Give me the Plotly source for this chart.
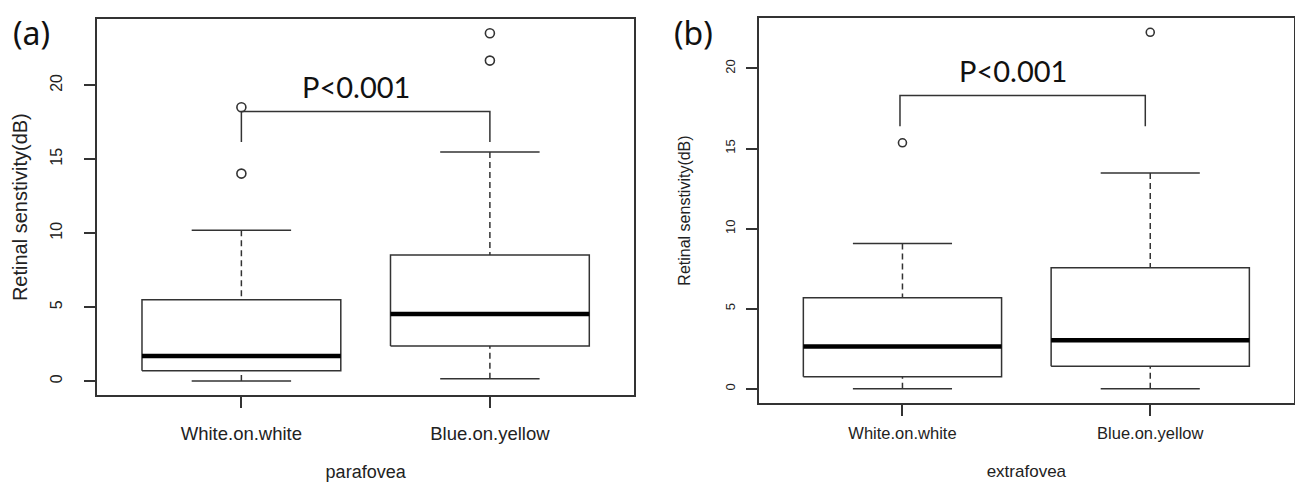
import plotly.graph_objects as go

# ---------------- data ----------------
categories = ["White.on.white", "Blue.on.yellow"]
positions = [1, 2]

# panel (a) parafovea : box-plot statistics (dB)
a_lower = [0.0, 0.16]
a_q1 = [0.70, 2.37]
a_median = [1.69, 4.53]
a_q3 = [5.50, 8.52]
a_upper = [10.2, 15.49]
a_outliers = [[14.03, 18.52], [21.67, 23.52]]

# panel (b) extrafovea : box-plot statistics (dB)
b_lower = [0.0, 0.0]
b_q1 = [0.75, 1.41]
b_median = [2.64, 3.03]
b_q3 = [5.68, 7.55]
b_upper = [9.07, 13.48]
b_outliers = [[15.36], [22.26]]

y_ticks = [0, 5, 10, 15, 20]
p_text = "P<0.001"
a_bracket_x = [1, 1, 2, 2]
a_bracket_y = [16.17, 18.22, 18.22, 16.17]
b_bracket_x = [0.99, 0.99, 1.98, 1.98]
b_bracket_y = [16.39, 18.31, 18.31, 16.39]
a_ptext_pos = (1.46, 19.9)
b_ptext_pos = (1.445, 19.87)
x_titles = ["parafovea", "extrafovea"]
y_title = "Retinal senstivity(dB)"
panel_labels = ["(a)", "(b)"]

# ---------------- style ----------------
INK = "#333333"
BOX_HALF = 0.4
CAP_HALF = 0.2
LINE_W = 1.5

fig = go.Figure()


def add_panel(xa, ya, lower, q1, med, q3, upper, outliers, bx, by, ptext_pos, marker_size):
    # whiskers (dashed), from whisker end to box edge
    wx, wy = [], []
    for c, lo, a, b, up in zip(positions, lower, q1, q3, upper):
        wx += [c, c, None, c, c, None]
        wy += [up, b, None, lo, a, None]
    fig.add_trace(go.Scatter(x=wx, y=wy, xaxis=xa, yaxis=ya, mode="lines",
                             line=dict(color=INK, width=LINE_W, dash="6px,4px"),
                             hoverinfo="skip", showlegend=False))
    # caps
    cx, cy = [], []
    for c, lo, up in zip(positions, lower, upper):
        cx += [c - CAP_HALF, c + CAP_HALF, None, c - CAP_HALF, c + CAP_HALF, None]
        cy += [up, up, None, lo, lo, None]
    fig.add_trace(go.Scatter(x=cx, y=cy, xaxis=xa, yaxis=ya, mode="lines",
                             line=dict(color=INK, width=LINE_W),
                             hoverinfo="skip", showlegend=False))
    # boxes
    rx, ry = [], []
    for c, a, b in zip(positions, q1, q3):
        rx += [c - BOX_HALF, c + BOX_HALF, c + BOX_HALF, c - BOX_HALF, c - BOX_HALF, None]
        ry += [a, a, b, b, a, None]
    fig.add_trace(go.Scatter(x=rx, y=ry, xaxis=xa, yaxis=ya, mode="lines",
                             line=dict(color=INK, width=LINE_W),
                             hoverinfo="skip", showlegend=False))
    # medians
    mx, my = [], []
    for c, m in zip(positions, med):
        mx += [c - BOX_HALF, c + BOX_HALF, None]
        my += [m, m, None]
    fig.add_trace(go.Scatter(x=mx, y=my, xaxis=xa, yaxis=ya, mode="lines",
                             line=dict(color="black", width=4.5),
                             hoverinfo="skip", showlegend=False))
    # outliers
    ox, oy = [], []
    for c, pts in zip(positions, outliers):
        ox += [c] * len(pts)
        oy += pts
    fig.add_trace(go.Scatter(x=ox, y=oy, xaxis=xa, yaxis=ya, mode="markers",
                             marker=dict(symbol="circle-open", size=marker_size,
                                         color=INK, line=dict(width=1.6, color=INK)),
                             hoverinfo="skip", showlegend=False))
    # significance bracket
    fig.add_trace(go.Scatter(x=bx, y=by, xaxis=xa, yaxis=ya, mode="lines",
                             line=dict(color=INK, width=LINE_W),
                             hoverinfo="skip", showlegend=False))
    fig.add_annotation(x=ptext_pos[0], y=ptext_pos[1], xref=xa, yref=ya,
                       text=p_text, showarrow=False,
                       font=dict(family="Lato, Open Sans, sans-serif", size=29, color="#111"))


add_panel("x", "y", a_lower, a_q1, a_median, a_q3, a_upper, a_outliers,
          a_bracket_x, a_bracket_y, a_ptext_pos, 9)
add_panel("x2", "y2", b_lower, b_q1, b_median, b_q3, b_upper, b_outliers,
          b_bracket_x, b_bracket_y, b_ptext_pos, 8)


def yrange(lower, outliers, upper):
    lo = min(lower)
    hi = max([max(p) for p in outliers] + upper)
    pad = 0.04 * (hi - lo)
    return [lo - pad, hi + pad]


AX_FONT = "Liberation Sans, Arial, sans-serif"
common_axis = dict(showline=True, mirror=True, linecolor=INK, linewidth=1.6,
                   ticks="outside", ticklen=11, tickwidth=1.5, tickcolor=INK,
                   showgrid=False, zeroline=False)

fig.update_layout(
    width=1295, height=483,
    margin=dict(l=0, r=0, t=0, b=0),
    paper_bgcolor="white", plot_bgcolor="white",
    showlegend=False,
    xaxis=dict(domain=[0.0751, 0.4896], range=[0.42, 2.58], anchor="y",
               tickmode="array", tickvals=positions, ticktext=categories,
               tickfont=dict(family=AX_FONT, size=18.5, color="#222"),
               ticklabelstandoff=10,
               title=dict(text=x_titles[0], standoff=22,
                          font=dict(family=AX_FONT, size=18, color="#222")),
               **common_axis),
    yaxis=dict(domain=[0.1822, 0.96], range=yrange(a_lower, a_outliers, a_upper), anchor="x",
               tickmode="array", tickvals=y_ticks, tickangle=-90,
               tickfont=dict(family=AX_FONT, size=16, color="#222"),
               ticklabelstandoff=16,
               title=dict(text=y_title, standoff=15,
                          font=dict(family=AX_FONT, size=20, color="#222")),
               **common_axis),
    xaxis2=dict(domain=[0.5859, 0.9992], range=[0.42, 2.58], anchor="y2",
                tickmode="array", tickvals=positions, ticktext=categories,
                tickfont=dict(family=AX_FONT, size=16.5, color="#222"),
                ticklabelstandoff=3,
                title=dict(text=x_titles[1], standoff=24,
                           font=dict(family=AX_FONT, size=17, color="#222")),
                **common_axis),
    yaxis2=dict(domain=[0.1656, 0.9627], range=yrange(b_lower, b_outliers, b_upper), anchor="x2",
                tickmode="array", tickvals=y_ticks, tickangle=-90,
                tickfont=dict(family=AX_FONT, size=13, color="#222"),
                ticklabelstandoff=6,
                title=dict(text=y_title, standoff=28,
                           font=dict(family=AX_FONT, size=16, color="#222")),
                **common_axis),
)

fig.add_annotation(x=0.0247, y=0.9317, xref="paper", yref="paper", text=panel_labels[0],
                   xanchor="center", yanchor="middle", showarrow=False,
                   font=dict(family="Noto Sans, sans-serif", size=32, color="#111"))
fig.add_annotation(x=0.5359, y=0.9317, xref="paper", yref="paper", text=panel_labels[1],
                   xanchor="center", yanchor="middle", showarrow=False,
                   font=dict(family="Noto Sans, sans-serif", size=32, color="#111"))

fig.write_html("out.html", config={"displayModeBar": False},
               post_script="document.body.style.margin='0';")
